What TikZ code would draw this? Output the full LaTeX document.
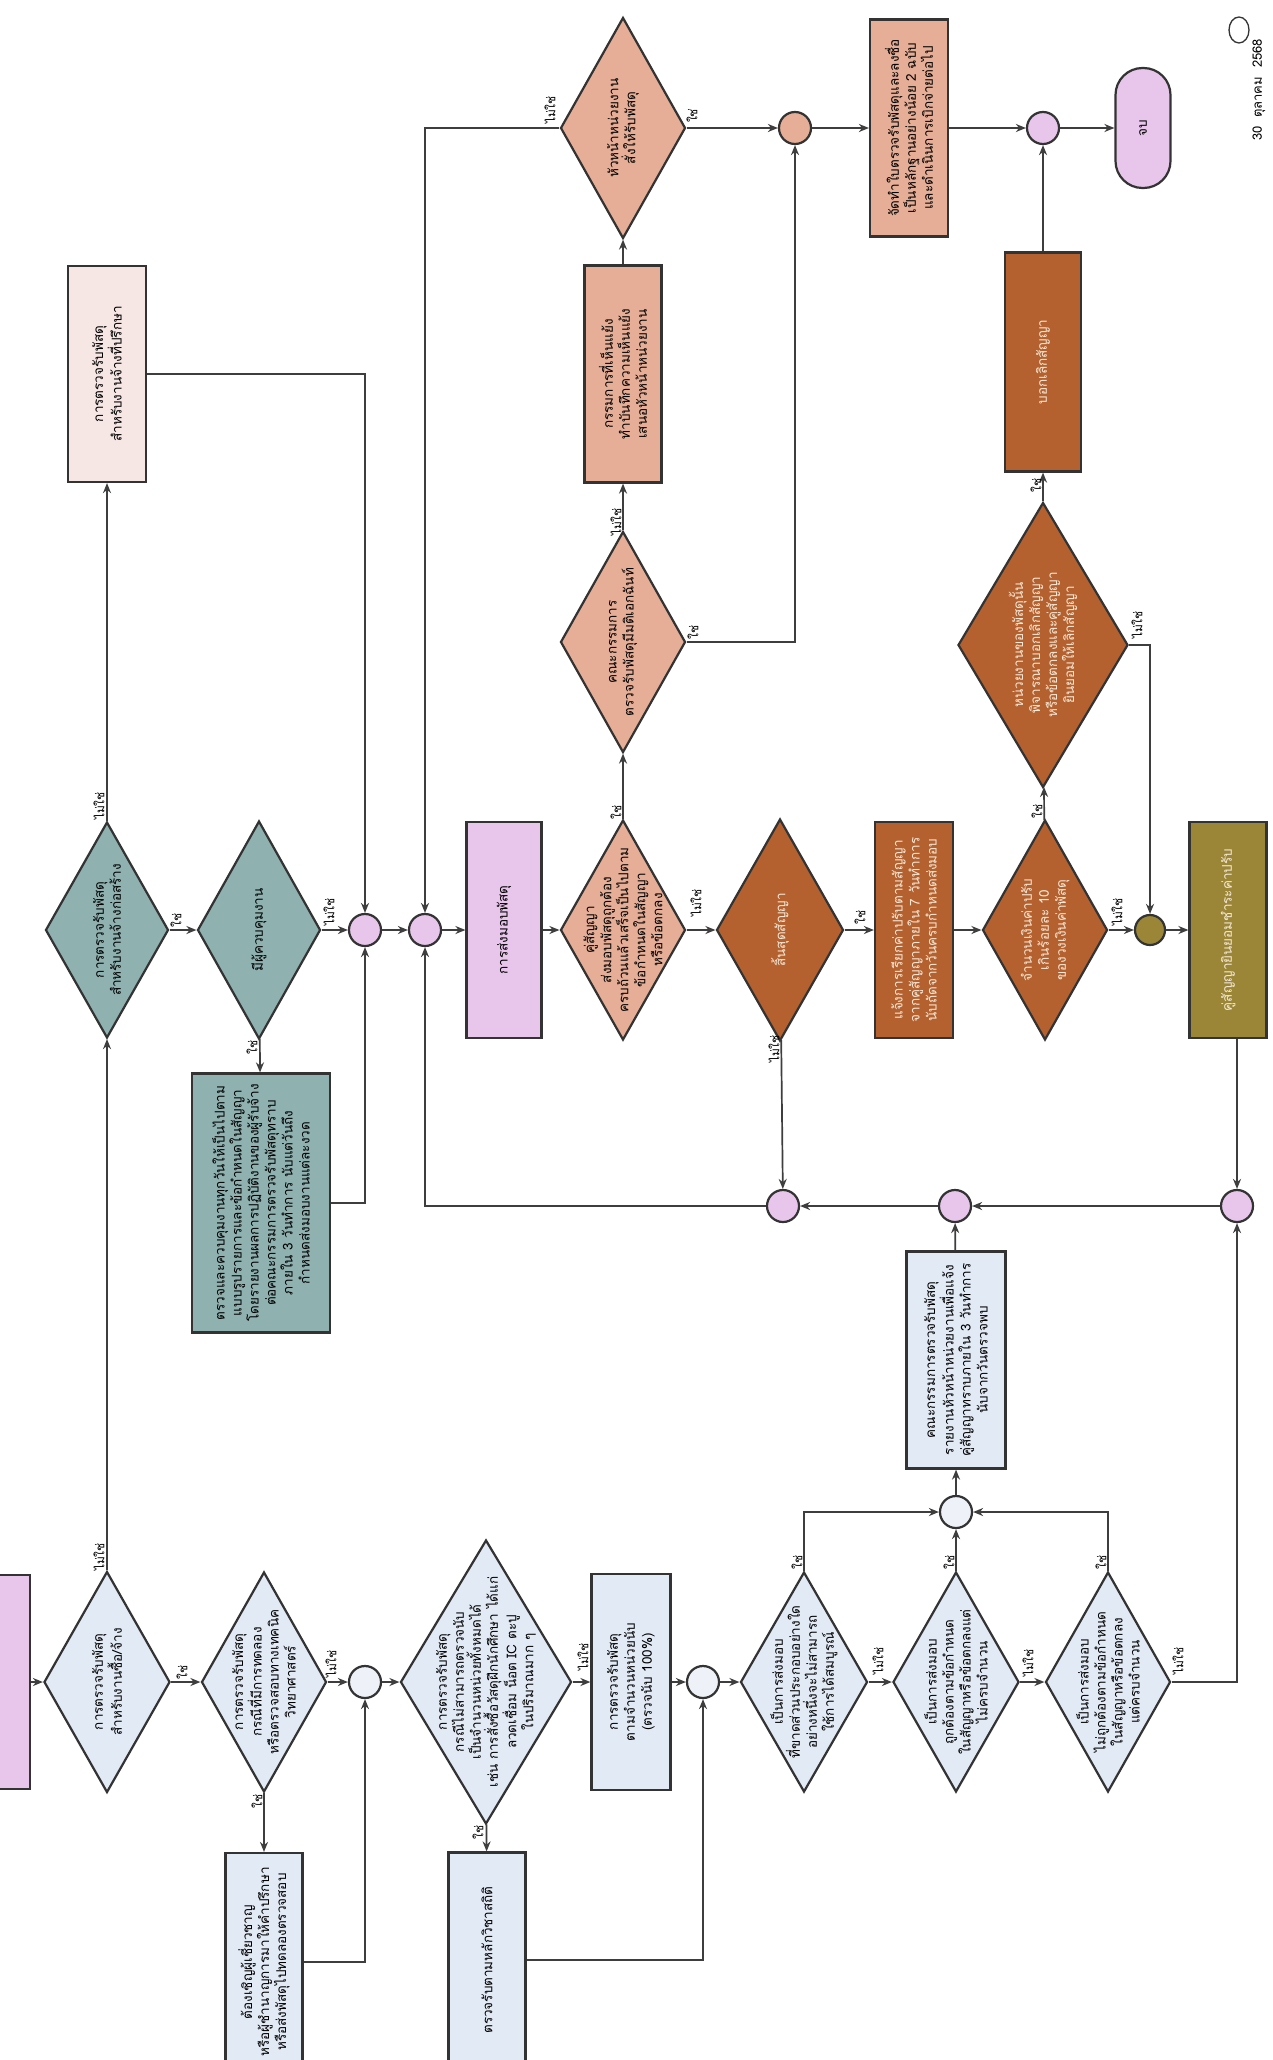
\documentclass[tikz,border=0pt]{standalone}
\usepackage{fontspec}
\newfontfamily\thaifont[Script=Thai]{Loma}
\usetikzlibrary{shapes.geometric,arrows.meta,calc}
\definecolor{lblue}{HTML}{E2EAF5}
\definecolor{wblue}{HTML}{EEF2F8}
\definecolor{tealc}{HTML}{8FB1B0}
\definecolor{pinkc}{HTML}{E8C6EC}
\definecolor{palep}{HTML}{F6E7E5}
\definecolor{salm}{HTML}{E6AE96}
\definecolor{dorange}{HTML}{B4612F}
\definecolor{olive}{HTML}{9A8636}
\definecolor{cream}{HTML}{F6E9D8}
\definecolor{bordc}{HTML}{333333}
\definecolor{linec}{HTML}{3E3E3E}
\begin{document}
\begin{tikzpicture}[x=1pt,y=-1pt,
  box/.style={draw=bordc, line width=2.2pt, rotate=90, align=center, inner sep=2pt,
    font=\thaifont\fontsize{13.5}{17}\selectfont, text=black},
  dia/.style={diamond, draw=bordc, line width=2.2pt, inner sep=0pt},
  circ/.style={circle, draw=bordc, line width=2.2pt, minimum size=32pt, inner sep=0pt},
  txt/.style={rotate=90, align=center, inner sep=0pt,
    font=\thaifont\fontsize{13.5}{17}\selectfont, text=black},
  lab/.style={rotate=90, inner sep=0pt, font=\thaifont\fontsize{12}{13}\selectfont, text=black},
  arr/.style={draw=linec, line width=1.7pt, -{Stealth[length=10pt,width=8pt]}},
]
\useasboundingbox (0,0) rectangle (1272,2060);
\fill[white] (0,0) rectangle (1272,2060);
\clip (0,0) rectangle (1272,2060);

% ---------- bottom row ----------
\node[box, fill=pinkc, minimum width=214pt, minimum height=156pt] (start) at (-48,1682) {};

\node[dia, fill=lblue, minimum width=126pt, minimum height=221pt] (dA) at (107,1682) {};
\node[txt] (dAt) at (dA) {การตรวจรับพัสดุ\\สำหรับงานซื้อ/จ้าง};

\node[dia, fill=lblue, minimum width=125pt, minimum height=220pt] (dB) at (264,1682) {};
\node[txt] (dBt) at (dB) {การตรวจรับพัสดุ\\กรณีที่มีการทดลอง\\หรือตรวจสอบทางเทคนิค\\วิทยาศาสตร์};

\node[box, fill=lblue, minimum width=218pt, minimum height=77pt] (bA) at (264,1962)
  {ต้องเชิญผู้เชี่ยวชาญ\\หรือผู้ชำนาญการมาให้คำปรึกษา\\หรือส่งพัสดุไปทดลองตรวจสอบ};

\node[circ, fill=wblue] (cA) at (365,1682) {};

\node[dia, fill=lblue, minimum width=171pt, minimum height=284pt] (dC) at (486,1682) {};
\node[txt] (dCt) at (dC) {การตรวจรับพัสดุ\\กรณีไม่สามารถตรวจนับ\\เป็นจำนวนหน่วยทั้งหมดได้\\เช่น การสั่งซื้อวัสดุฝึกนักศึกษา ได้แก่\\ลวดเชื่อม น็อต IC ตะปู\\ในปริมาณมาก ๆ};

\node[box, fill=lblue, minimum width=215pt, minimum height=77pt] (bB) at (487,1960) {ตรวจรับตามหลักวิชาสถิติ};

\node[box, fill=lblue, minimum width=216pt, minimum height=79pt] (bC) at (631,1682)
  {การตรวจรับพัสดุ\\ตามจำนวนหน่วยนับ\\(ตรวจนับ 100\%)};

\node[circ, fill=wblue] (cB) at (703,1682) {};

\node[dia, fill=lblue, minimum width=127pt, minimum height=220pt] (dD) at (804,1682) {};
\node[txt] (dDt) at (dD) {เป็นการส่งมอบ\\ที่ขาดส่วนประกอบอย่างใด\\อย่างหนึ่งจะไม่สามารถ\\ใช้การได้สมบูรณ์};

\node[dia, fill=lblue, minimum width=126pt, minimum height=220pt] (dE) at (956,1682) {};
\node[txt] (dEt) at (dE) {เป็นการส่งมอบ\\ถูกต้องตามข้อกำหนด\\ในสัญญาหรือข้อตกลงแต่\\ไม่ครบจำนวน};

\node[dia, fill=lblue, minimum width=125pt, minimum height=220pt] (dF) at (1108,1682) {};
\node[txt] (dFt) at (dF) {เป็นการส่งมอบ\\ไม่ถูกต้องตามข้อกำหนด\\ในสัญญาหรือข้อตกลง\\แต่ครบจำนวน};

\node[circ, fill=wblue] (cC) at (956,1512) {};
\node[box, fill=lblue, minimum width=217pt, minimum height=99pt] (bD) at (956,1360)
  {คณะกรรมการตรวจรับพัสดุ\\รายงานหัวหน้าหน่วยงานเพื่อแจ้ง\\คู่สัญญาทราบภายใน 3 วันทำการ\\นับจากวันตรวจพบ};
\node[circ, fill=pinkc] (cD) at (955,1206) {};
\node[circ, fill=pinkc] (cE) at (1237,1206) {};
\node[circ, fill=pinkc] (cF) at (783,1206) {};

% ---------- middle row ----------
\node[dia, fill=tealc, minimum width=123pt, minimum height=216pt] (dG) at (107,930) {};
\node[txt] (dGt) at (dG) {การตรวจรับพัสดุ\\สำหรับงานจ้างก่อสร้าง};

\node[dia, fill=tealc, minimum width=123pt, minimum height=218pt] (dH) at (259,930) {};
\node[txt] (dHt) at (dH) {มีผู้ควบคุมงาน};

\node[box, fill=tealc, minimum width=259pt, minimum height=138pt] (bT) at (261,1203)
  {ตรวจและควบคุมงานทุกวันให้เป็นไปตาม\\แบบรูปรายการและข้อกำหนดในสัญญา\\โดยรายงานผลการปฏิบัติงานของผู้รับจ้าง\\ต่อคณะกรรมการตรวจรับพัสดุทราบ\\ภายใน 3 วันทำการ นับแต่วันถึง\\กำหนดส่งมอบงานแต่ละงวด};

\node[circ, fill=pinkc] (cH) at (365,930) {};
\node[circ, fill=pinkc] (cG) at (425,930) {};

\node[box, fill=pinkc, minimum width=216pt, minimum height=75pt] (bG) at (504,930) {การส่งมอบพัสดุ};

\node[dia, fill=salm, minimum width=125pt, minimum height=220pt] (dI) at (623,930) {};
\node[txt] (dIt) at (dI) {คู่สัญญา\\ส่งมอบพัสดุถูกต้อง\\ครบถ้วนแล้วเสร็จเป็นไปตาม\\ข้อกำหนดในสัญญา\\หรือข้อตกลง};

\node[dia, fill=dorange, minimum width=127pt, minimum height=222pt] (dL) at (780,930) {};
\node[txt, text=cream] (dLt) at (dL) {สิ้นสุดสัญญา};

\node[box, fill=dorange, text=cream, minimum width=216pt, minimum height=78pt] (bK) at (914,930)
  {แจ้งการเรียกค่าปรับตามสัญญา\\จากคู่สัญญาภายใน 7 วันทำการ\\นับถัดจากวันครบกำหนดส่งมอบ};

\node[dia, fill=dorange, minimum width=125pt, minimum height=220pt] (dM) at (1045,930) {};
\node[txt, text=cream] (dMt) at (dM) {จำนวนเงินค่าปรับ\\เกินร้อยละ 10\\ของวงเงินค่าพัสดุ};

\node[circ, fill=olive, minimum size=30pt] (cO) at (1150,930) {};
\node[box, fill=olive, text=cream, minimum width=216pt, minimum height=77pt] (bO) at (1228,930)
  {คู่สัญญายินยอมชำระค่าปรับ};

% ---------- top rows ----------
\node[box, fill=palep, minimum width=216pt, minimum height=78pt] (bP) at (107,374)
  {การตรวจรับพัสดุ\\สำหรับงานจ้างที่ปรึกษา};

\node[dia, fill=salm, minimum width=125pt, minimum height=221pt] (dJ) at (623,642) {};
\node[txt] (dJt) at (dJ) {คณะกรรมการ\\ตรวจรับพัสดุมีมติเอกฉันท์};

\node[box, fill=salm, minimum width=217pt, minimum height=77pt] (bJ) at (623,374)
  {กรรมการที่เห็นแย้ง\\ทำบันทึกความเห็นแย้ง\\เสนอหัวหน้าหน่วยงาน};

\node[dia, fill=salm, minimum width=125pt, minimum height=221pt] (dK) at (623,128) {};
\node[txt] (dKt) at (dK) {หัวหน้าหน่วยงาน\\สั่งให้รับพัสดุ};

\node[circ, fill=salm] (cK) at (795,128) {};

\node[box, fill=salm, minimum width=217pt, minimum height=78pt] (bL) at (909,128)
  {จัดทำใบตรวจรับพัสดุและลงชื่อ\\เป็นหลักฐานอย่างน้อย 2 ฉบับ\\และดำเนินการเบิกจ่ายต่อไป};

\node[circ, fill=pinkc] (cL) at (1043,128) {};
\node[box, fill=pinkc, rounded corners=27pt, minimum width=120pt, minimum height=55pt] (eN) at (1143,128) {จบ};

\node[dia, fill=dorange, minimum width=170pt, minimum height=285pt] (dN) at (1043,645) {};
\node[txt, text=cream] (dNt) at (dN) {หน่วยงานของพัสดุนั้น\\พิจารณาบอกเลิกสัญญา\\หรือข้อตกลงและคู่สัญญา\\ยินยอมให้เลิกสัญญา};

\node[box, fill=dorange, text=cream, minimum width=219pt, minimum height=76pt] (bM) at (1043,362) {บอกเลิกสัญญา};

% date
\node[lab, font=\thaifont\fontsize{13}{14}\selectfont] (date) at (1259,90) {30~ ตุลาคม~ 2568};
\draw[line width=1.3pt, draw=black!80] (1239,30) ellipse [x radius=10pt, y radius=13pt];

% ---------- connectors ----------
\draw[arr] (start) -- (dA);
\draw[arr] (dA) -- (dG);
\draw[arr] (dA) -- (dB);
\draw[arr] (dB) -- (bA);
\draw[arr] (dB) -- (cA);
\draw[arr] (bA) -| (cA);
\draw[arr] (cA) -- (dC);
\draw[arr] (dC) -- (bB);
\draw[arr] (dC) -- (bC);
\draw[arr] (bB) -| (cB);
\draw[arr] (bC) -- (cB);
\draw[arr] (cB) -- (dD);
\draw[arr] (dD) |- (cC);
\draw[arr] (dD) -- (dE);
\draw[arr] (dE) -- (cC);
\draw[arr] (dE) -- (dF);
\draw[arr] (dF) |- (cC);
\draw[arr] (dF) -| (cE);
\draw[arr] (cC) -- (bD);
\draw[arr] (bD) -- (cD);
\draw[arr] (cE) -- (cD);
\draw[arr] (cD) -- (cF);
\draw[arr] (dL) -- (cF);
\draw[arr] (cF) -| (cG);
\draw[arr] (bO.west -| cE) -- (cE);

\draw[arr] (dG) -- (bP);
\draw[arr] (dG) -- (dH);
\draw[arr] (dH) -- (cH);
\draw[arr] (dH) -- (bT);
\draw[arr] (bT) -| (cH);
\draw[arr] (bP) -| (cH);
\draw[arr] (cH) -- (cG);
\draw[arr] (dK) -| (cG);
\draw[arr] (cG) -- (bG);
\draw[arr] (bG) -- (dI);
\draw[arr] (dI) -- (dJ);
\draw[arr] (dI) -- (dL);
\draw[arr] (dJ) -- (bJ);
\draw[arr] (dJ) -| (cK);
\draw[arr] (bJ) -- (dK);
\draw[arr] (dK) -- (cK);
\draw[arr] (cK) -- (bL);
\draw[arr] (bL) -- (cL);
\draw[arr] (cL) -- (eN);
\draw[arr] (bM) -- (cL);
\draw[arr] (dL) -- (bK);
\draw[arr] (bK) -- (dM);
\draw[arr] (dM) -- (dN);
\draw[arr] (dN) -- (bM);
\draw[arr] (dN) -| (cO);
\draw[arr] (dM) -- (cO);
\draw[arr] (cO) -- (bO);

% ---------- labels ----------
\node[lab] (l1) at (99,1557) {ไม่ใช่};
\node[lab] (l2) at (182,1672) {ใช่};
\node[lab] (l3) at (257,1801) {ใช่};
\node[lab] (l4) at (331,1664) {ไม่ใช่};
\node[lab] (l5) at (478,1832) {ใช่};
\node[lab] (l6) at (583,1657) {ไม่ใช่};
\node[lab] (l7) at (797,1562) {ใช่};
\node[lab] (l8) at (878,1661) {ไม่ใช่};
\node[lab] (l9) at (949,1562) {ใช่};
\node[lab] (l10) at (1028,1663) {ไม่ใช่};
\node[lab] (l11) at (1101,1562) {ใช่};
\node[lab] (l12) at (1178,1661) {ไม่ใช่};
\node[lab] (l13) at (99,806) {ไม่ใช่};
\node[lab] (l14) at (176,920) {ใช่};
\node[lab] (l15) at (329,912) {ไม่ใช่};
\node[lab] (l16) at (252,1047) {ใช่};
\node[lab] (l17) at (550,110) {ไม่ใช่};
\node[lab] (l18) at (616,812) {ใช่};
\node[lab] (l19) at (696,903) {ไม่ใช่};
\node[lab] (l20) at (616,522) {ไม่ใช่};
\node[lab] (l21) at (693,632) {ใช่};
\node[lab] (l22) at (692,116) {ใช่};
\node[lab] (l23) at (774,1049) {ไม่ใช่};
\node[lab] (l24) at (860,917) {ใช่};
\node[lab] (l25) at (1037,811) {ใช่};
\node[lab] (l26) at (1036,485) {ใช่};
\node[lab] (l27) at (1137,625) {ไม่ใช่};
\node[lab] (l28) at (1117,912) {ไม่ใช่};
\end{tikzpicture}
\end{document}
